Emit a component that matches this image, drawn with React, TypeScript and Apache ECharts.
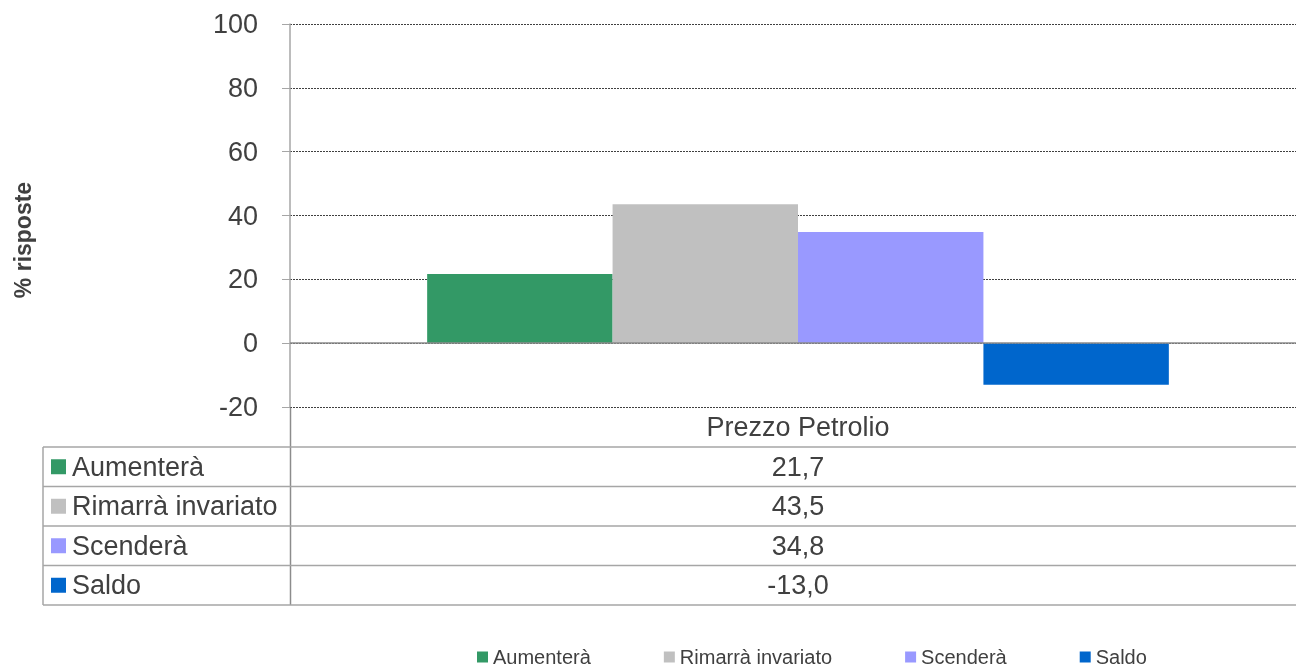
import { useEffect, useRef } from "react";
import * as echarts from "echarts";

const categories = ["Prezzo Petrolio"];
const seriesNames = ["Aumenterà", "Rimarrà invariato", "Scenderà", "Saldo"];
const seriesValues = [[21.7], [43.5], [34.8], [-13.0]];
const seriesColors = ["#339966", "#C0C0C0", "#9999FF", "#0066CC"];
const yMin = -20;
const yMax = 100;
const yInterval = 20;
const yAxisName = "% risposte";

const FONT = '"Liberation Sans", Arial, sans-serif';
const TEXT = "#404040";

export default function App() {
  const ref = useRef<HTMLDivElement>(null);

  useEffect(() => {
    if (!ref.current) return;
    const chart = echarts.init(ref.current, null, { renderer: "svg" });

    const tableTop = 447;
    const rowH = 39.5;
    const tableLeft = 43;
    const tableRight = 1296;
    const colX = 290.5;
    const valueX = 798;
    const border = "#a6a6a6";

    const graphic: any[] = [];
    graphic.push({
      type: "line",
      silent: true,
      shape: { x1: colX, y1: 407, x2: colX, y2: tableTop + rowH * seriesNames.length },
      style: { stroke: "#8c8c8c", lineWidth: 1.5 },
    });
    graphic.push({
      type: "line",
      silent: true,
      shape: { x1: tableLeft, y1: tableTop, x2: tableLeft, y2: tableTop + rowH * seriesNames.length },
      style: { stroke: border, lineWidth: 1.5 },
    });
    for (let i = 0; i <= seriesNames.length; i++) {
      const y = tableTop + rowH * i;
      graphic.push({
        type: "line",
        silent: true,
        shape: { x1: tableLeft, y1: y, x2: tableRight, y2: y },
        style: { stroke: border, lineWidth: 1.5 },
      });
    }
    seriesNames.forEach((name, i) => {
      const cy = tableTop + rowH * i + rowH / 2;
      graphic.push({
        type: "rect",
        silent: true,
        shape: { x: 51, y: cy - 7.5, width: 15, height: 15 },
        style: { fill: seriesColors[i] },
      });
      graphic.push({
        type: "text",
        silent: true,
        x: 72,
        y: cy,
        style: {
          text: name,
          font: `27px ${FONT}`,
          fill: TEXT,
          textAlign: "left",
          textVerticalAlign: "middle",
        },
      });
      graphic.push({
        type: "text",
        silent: true,
        x: valueX,
        y: cy,
        style: {
          text: seriesValues[i][0].toFixed(1).replace(".", ","),
          font: `27px ${FONT}`,
          fill: TEXT,
          textAlign: "center",
          textVerticalAlign: "middle",
        },
      });
    });
    graphic.push({
      type: "text",
      silent: true,
      x: 23,
      y: 240,
      rotation: Math.PI / 2,
      style: {
        text: yAxisName,
        font: `bold 23px ${FONT}`,
        fill: TEXT,
        textAlign: "center",
        textVerticalAlign: "middle",
      },
    });

    chart.setOption({
      animation: false,
      textStyle: { fontFamily: FONT },
      grid: { left: 290, top: 24, width: 1016, height: 383, containLabel: false },
      legend: {
        left: 477,
        top: 647,
        padding: 0,
        itemWidth: 11,
        itemHeight: 11,
        itemGap: 73,
        icon: "rect",
        data: seriesNames,
        textStyle: { fontSize: 20, color: TEXT, fontFamily: FONT },
        selectedMode: false,
      },
      xAxis: {
        type: "category",
        data: categories,
        axisLine: { show: false, onZero: false },
        axisTick: { show: false },
        axisLabel: { fontSize: 27, color: TEXT, margin: 6, fontFamily: FONT },
        splitLine: { show: false },
      },
      yAxis: {
        type: "value",
        min: yMin,
        max: yMax,
        interval: yInterval,
        axisLine: { show: true, lineStyle: { color: "#a6a6a6", width: 1.5 } },
        axisTick: { show: true, length: 8, lineStyle: { color: "#a6a6a6", width: 1 } },
        axisLabel: { fontSize: 27, color: TEXT, margin: 32, fontFamily: FONT },
        splitLine: { show: true, lineStyle: { color: "#404040", width: 1, type: [2, 1] } },
      },
      series: seriesNames.map((name, i) => ({
        name,
        type: "bar",
        data: seriesValues[i],
        barGap: "0%",
        barCategoryGap: "27%",
        itemStyle: { color: seriesColors[i] },
        ...(i === 0
          ? {
              markLine: {
                silent: true,
                symbol: "none",
                label: { show: false },
                lineStyle: { color: "#8c8c8c", width: 1.5, type: "solid" },
                data: [{ yAxis: 0 }],
              },
            }
          : {}),
      })),
      graphic,
    });

    return () => chart.dispose();
  }, []);

  return (
    <div style={{ position: "fixed", left: 0, top: 0, width: 1296, height: 669, overflow: "hidden" }}>
      <div ref={ref} style={{ position: "absolute", left: 0, top: 0, width: 1306, height: 669 }} />
    </div>
  );
}
